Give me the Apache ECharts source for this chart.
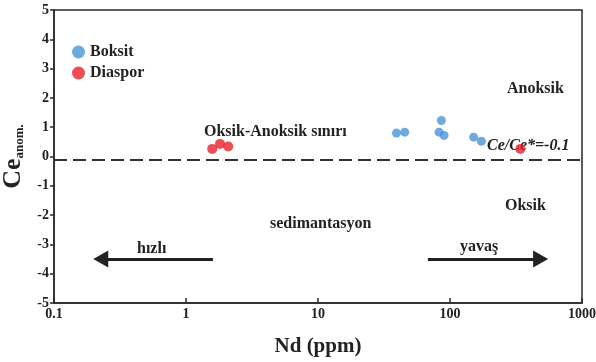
<!DOCTYPE html>
<html><head><meta charset="utf-8">
<script src="https://cdn.jsdelivr.net/npm/echarts@6/dist/echarts.min.js"></script>
<style>html,body{margin:0;padding:0;background:#fff}#c{width:596px;height:362px}</style>
</head><body><div id="c"></div>
<script>
// Data
const boksitNd = [39.3, 45.4, 86, 82.6, 90.2, 151, 173];
const boksitCe = [0.80, 0.83, 1.23, 0.83, 0.72, 0.66, 0.52];
const diasporNd = [1.58, 1.81, 2.09, 341];
const diasporCe = [0.26, 0.43, 0.34, 0.26];
const boundaryCe = -0.1;
const arrowY = -3.5;
const leftArrow = [1.6, 0.226];
const rightArrow = [68, 486];
const xTicks = [0.1, 1, 10, 100, 1000];
const yTicks = [-5, -4, -3, -2, -1, 0, 1, 2, 3, 4, 5];

const serif = '"Liberation Serif", "DejaVu Serif", serif';
const chart = echarts.init(document.getElementById('c'));
const pair = (xs, ys) => xs.map((x, i) => [x, ys[i]]);

chart.setOption({
  animation: false,
  grid: {left: 54, right: 14, top: 10, bottom: 59, show: true, borderColor: '#2a2a2a', borderWidth: 1.5,
         containLabel: false, outerBoundsMode: 'none'},
  legend: {
    orient: 'vertical', left: 67, top: 39, itemGap: 5, icon: 'circle', itemWidth: 13, itemHeight: 13,
    textStyle: {fontFamily: serif, fontWeight: 'bold', fontSize: 16, color: '#222'},
    data: ['Boksit', 'Diaspor']
  },
  xAxis: {
    type: 'log', logBase: 10, min: xTicks[0], max: xTicks[xTicks.length - 1],
    name: 'Nd (ppm)', nameLocation: 'middle', nameGap: 33,
    nameTextStyle: {fontFamily: serif, fontWeight: 'bold', fontSize: 21, color: '#222'},
    axisLine: {onZero: false, lineStyle: {color: '#2a2a2a', width: 1.5}},
    axisTick: {inside: true, length: 5, lineStyle: {color: '#2a2a2a', width: 1.5}},
    minorTick: {show: false},
    splitLine: {show: false},
    axisLabel: {fontFamily: serif, fontWeight: 'bold', fontSize: 14, color: '#222', margin: 4,
      formatter: v => { const t = xTicks.find(k => Math.abs(k - v) / k < 1e-6); return t === undefined ? '' : String(t); }}
  },
  yAxis: {
    type: 'value', min: yTicks[0], max: yTicks[yTicks.length - 1], interval: 1,
    name: '{a|Ce}{b|anom.}', nameLocation: 'middle', nameGap: 26, nameRotate: 90,
    nameTextStyle: {rich: {
      a: {fontFamily: serif, fontWeight: 'bold', fontSize: 26, color: '#222'},
      b: {fontFamily: serif, fontWeight: 'bold', fontSize: 13, color: '#222', verticalAlign: 'bottom', padding: [10, 0, 0, 0]}
    }},
    axisLine: {show: true, onZero: false, lineStyle: {color: '#2a2a2a', width: 1.5}},
    axisTick: {show: true, length: 4, lineStyle: {color: '#2a2a2a', width: 1.5}},
    splitLine: {show: false},
    axisLabel: {fontFamily: serif, fontWeight: 'bold', fontSize: 14, color: '#222', margin: 5}
  },
  series: [
    {
      name: 'Boksit', type: 'scatter', symbolSize: 9, itemStyle: {color: '#4a95d6'},
      data: pair(boksitNd, boksitCe), z: 5
    },
    {
      name: 'Diaspor', type: 'scatter', symbolSize: 10, itemStyle: {color: '#e8202a'},
      data: pair(diasporNd, diasporCe), z: 6,
      markLine: {
        silent: true, symbol: ['none', 'none'], label: {show: false},
        lineStyle: {color: '#333', type: [13, 6], width: 2},
        data: [{yAxis: boundaryCe}]
      }
    },
    {
      name: 'arrows', type: 'line', data: [], silent: true,
      markLine: {
        silent: true, label: {show: false},
        symbol: ['none', 'triangle'], symbolSize: [17, 15],
        lineStyle: {color: '#222', type: 'solid', width: 3},
        data: [
          [{coord: [leftArrow[0], arrowY]}, {coord: [leftArrow[1], arrowY]}],
          [{coord: [rightArrow[0], arrowY]}, {coord: [rightArrow[1], arrowY]}]
        ]
      }
    }
  ],
  graphic: [
    {type: 'text', left: 507, top: 81, style: {text: 'Anoksik', font: 'bold 16px ' + serif, fill: '#222'}},
    {type: 'text', left: 204, top: 124, style: {text: 'Oksik-Anoksik sınırı', font: 'bold 16px ' + serif, fill: '#222'}},
    {type: 'text', left: 487, top: 138, style: {text: 'Ce/Ce*=-0.1', font: 'italic bold 16px ' + serif, fill: '#222'}},
    {type: 'text', left: 505, top: 198, style: {text: 'Oksik', font: 'bold 16px ' + serif, fill: '#222'}},
    {type: 'text', left: 270, top: 216, style: {text: 'sedimantasyon', font: 'bold 16px ' + serif, fill: '#222'}},
    {type: 'text', left: 137, top: 241, style: {text: 'hızlı', font: 'bold 16px ' + serif, fill: '#222'}},
    {type: 'text', left: 460, top: 239, style: {text: 'yavaş', font: 'bold 16px ' + serif, fill: '#222'}}
  ]
});
</script></body></html>
